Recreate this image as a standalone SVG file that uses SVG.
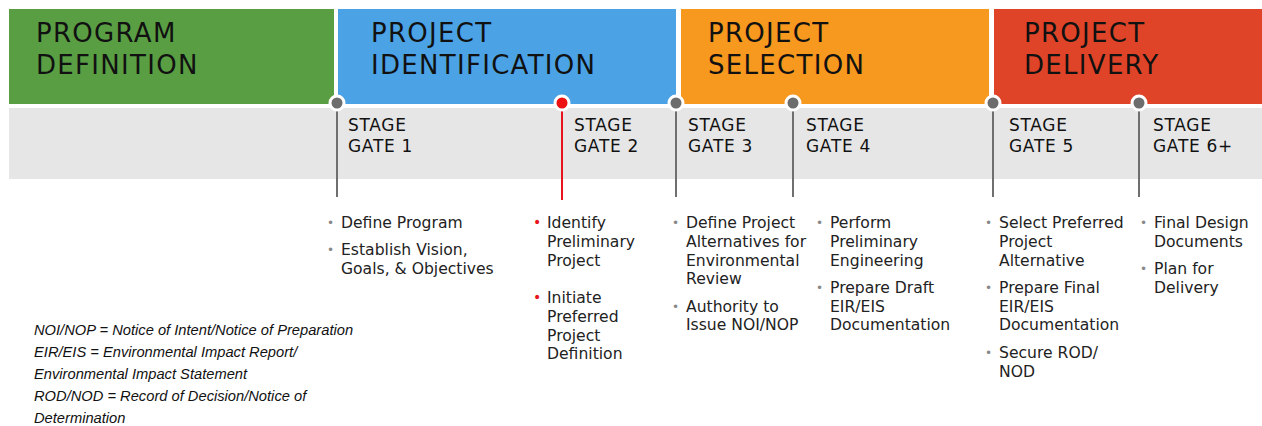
<svg xmlns="http://www.w3.org/2000/svg" width="1262" height="426" viewBox="0 0 1262 426">
<style>
.hd{font-family:"DejaVu Sans",sans-serif;font-size:26px;letter-spacing:1.3px;fill:#111}
.gt{font-family:"DejaVu Sans",sans-serif;font-size:17px;letter-spacing:0.7px;fill:#111}
.bt{font-family:"DejaVu Sans",sans-serif;font-size:15.6px;fill:#222}
.bl{font-family:"DejaVu Sans",sans-serif;font-size:12px;fill:#888}
.br{font-family:"DejaVu Sans",sans-serif;font-size:14px;fill:#e8141c}
.lg{font-family:"Liberation Sans",Arial,sans-serif;font-size:14.7px;font-style:italic;fill:#111}
.ln{stroke:#6f6f6f;stroke-width:2}
.dot{fill:#6d6d6d;stroke:#fff;stroke-width:3}
</style>
<rect width="1262" height="426" fill="#fff"/>
<g id="band">
<rect x="9" y="108" width="1253" height="71" fill="#e6e6e6"/>
</g>
<g id="phase-program-definition">
<rect x="9" y="9" width="325" height="95" fill="#5a9e44"/>
<text class="hd" x="36" y="42">PROGRAM</text>
<text class="hd" x="36" y="74">DEFINITION</text>
</g>
<g id="phase-project-identification">
<rect x="338" y="9" width="338" height="95" fill="#4ba3e6"/>
<text class="hd" x="371" y="42">PROJECT</text>
<text class="hd" x="371" y="74">IDENTIFICATION</text>
</g>
<g id="phase-project-selection">
<rect x="681" y="9" width="308" height="95" fill="#f7981f"/>
<text class="hd" x="708" y="42">PROJECT</text>
<text class="hd" x="708" y="74">SELECTION</text>
</g>
<g id="phase-project-delivery">
<rect x="994" y="9" width="268" height="95" fill="#e04428"/>
<text class="hd" x="1024" y="42">PROJECT</text>
<text class="hd" x="1024" y="74">DELIVERY</text>
</g>
<g id="connectors">
<line class="ln" x1="337" y1="104" x2="337" y2="197"/>
<line x1="562" y1="104" x2="562" y2="200" stroke="#e8141c" stroke-width="2"/>
<line class="ln" x1="676" y1="104" x2="676" y2="197"/>
<line class="ln" x1="793" y1="104" x2="793" y2="197"/>
<line class="ln" x1="993" y1="104" x2="993" y2="197"/>
<line class="ln" x1="1139" y1="104" x2="1139" y2="197"/>
</g>
<g id="gate-1">
<circle class="dot" cx="337" cy="103" r="7"/>
<text class="gt" x="348" y="131">STAGE</text>
<text class="gt" x="348" y="152">GATE 1</text>
<text class="bl" x="327" y="227">•</text>
<text class="bt" x="341" y="228">Define Program</text>
<text class="bl" x="327" y="254">•</text>
<text class="bt" x="341" y="255">Establish Vision,</text>
<text class="bt" x="341" y="274">Goals, &amp; Objectives</text>
</g>
<g id="gate-2">
<circle cx="562" cy="103" r="7" fill="#ee1111" stroke="#fff" stroke-width="3"/>
<text class="gt" x="574" y="131">STAGE</text>
<text class="gt" x="574" y="152">GATE 2</text>
<text class="br" x="533" y="227">•</text>
<text class="bt" x="547" y="228">Identify</text>
<text class="bt" x="547" y="247">Preliminary</text>
<text class="bt" x="547" y="266">Project</text>
<text class="br" x="533" y="302">•</text>
<text class="bt" x="547" y="303">Initiate</text>
<text class="bt" x="547" y="322">Preferred</text>
<text class="bt" x="547" y="341">Project</text>
<text class="bt" x="547" y="359">Definition</text>
</g>
<g id="gate-3">
<circle class="dot" cx="676" cy="103" r="7"/>
<text class="gt" x="688" y="131">STAGE</text>
<text class="gt" x="688" y="152">GATE 3</text>
<text class="bl" x="672" y="227">•</text>
<text class="bt" x="686" y="228">Define Project</text>
<text class="bt" x="686" y="247">Alternatives for</text>
<text class="bt" x="686" y="266">Environmental</text>
<text class="bt" x="686" y="284">Review</text>
<text class="bl" x="672" y="311">•</text>
<text class="bt" x="686" y="312">Authority to</text>
<text class="bt" x="686" y="330">Issue NOI/NOP</text>
</g>
<g id="gate-4">
<circle class="dot" cx="793" cy="103" r="7"/>
<text class="gt" x="806" y="131">STAGE</text>
<text class="gt" x="806" y="152">GATE 4</text>
<text class="bl" x="816" y="227">•</text>
<text class="bt" x="830" y="228">Perform</text>
<text class="bt" x="830" y="247">Preliminary</text>
<text class="bt" x="830" y="266">Engineering</text>
<text class="bl" x="816" y="292">•</text>
<text class="bt" x="830" y="293">Prepare Draft</text>
<text class="bt" x="830" y="312">EIR/EIS</text>
<text class="bt" x="830" y="330">Documentation</text>
</g>
<g id="gate-5">
<circle class="dot" cx="993" cy="103" r="7"/>
<text class="gt" x="1009" y="131">STAGE</text>
<text class="gt" x="1009" y="152">GATE 5</text>
<text class="bl" x="985" y="227">•</text>
<text class="bt" x="999" y="228">Select Preferred</text>
<text class="bt" x="999" y="247">Project</text>
<text class="bt" x="999" y="266">Alternative</text>
<text class="bl" x="985" y="292">•</text>
<text class="bt" x="999" y="293">Prepare Final</text>
<text class="bt" x="999" y="312">EIR/EIS</text>
<text class="bt" x="999" y="330">Documentation</text>
<text class="bl" x="985" y="357">•</text>
<text class="bt" x="999" y="358">Secure ROD/</text>
<text class="bt" x="999" y="377">NOD</text>
</g>
<g id="gate-6">
<circle class="dot" cx="1139" cy="103" r="7"/>
<text class="gt" x="1153" y="131">STAGE</text>
<text class="gt" x="1153" y="152">GATE 6+</text>
<text class="bl" x="1140" y="227">•</text>
<text class="bt" x="1154" y="228">Final Design</text>
<text class="bt" x="1154" y="247">Documents</text>
<text class="bl" x="1140" y="273">•</text>
<text class="bt" x="1154" y="274">Plan for</text>
<text class="bt" x="1154" y="293">Delivery</text>
</g>
<g id="legend">
<text class="lg" x="34" y="335">NOI/NOP = Notice of Intent/Notice of Preparation</text>
<text class="lg" x="34" y="357">EIR/EIS = Environmental Impact Report/</text>
<text class="lg" x="34" y="379">Environmental Impact Statement</text>
<text class="lg" x="34" y="401">ROD/NOD = Record of Decision/Notice of</text>
<text class="lg" x="34" y="423">Determination</text>
</g>
</svg>
